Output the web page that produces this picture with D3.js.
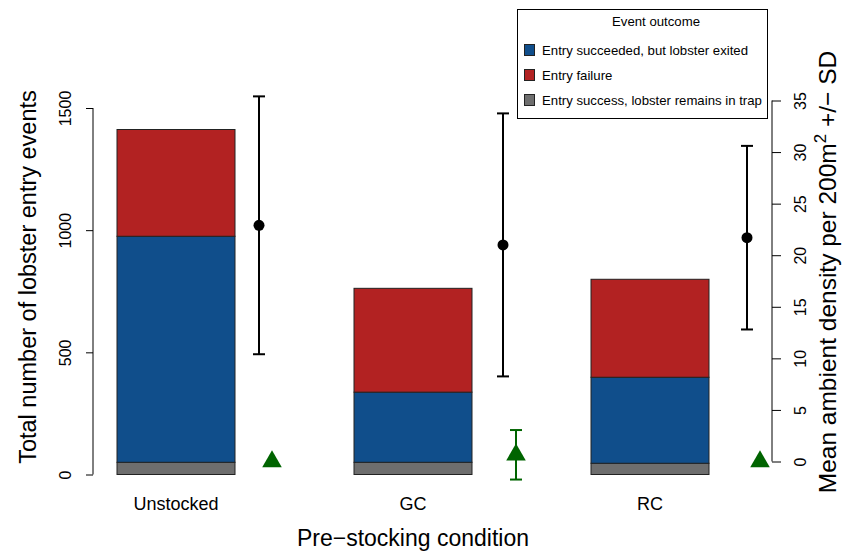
<!DOCTYPE html>
<html><head><meta charset="utf-8">
<script src="https://cdn.jsdelivr.net/npm/d3@7"></script>
<style>body{margin:0;background:#fff}svg{display:block}text{font-family:"Liberation Sans",Arial,sans-serif}</style>
</head><body>
<script>
const categories = ["Unstocked", "GC", "RC"];
const remains = [50, 50, 46];
const exited = [925, 287, 352];
const failure = [437, 425, 401];
const ambientMean = [22.9, 21.0, 21.7];
const ambientSD = [12.5, 12.75, 8.9];
const stockedMean = [0, 0.65, 0];
const stockedSD = [0, 2.4, 0];
const leftTicks = [0, 500, 1000, 1500];
const rightTicks = [0, 5, 10, 15, 20, 25, 30, 35];
const legendLabels = ["Entry succeeded, but lobster exited", "Entry failure", "Entry success, lobster remains in trap"];

const W = 842, H = 552;
const svg = d3.select("body").append("svg").attr("width", W).attr("height", H);

const x = d3.scalePoint().domain(categories).range([176, 650]);
const xPt = d3.scalePoint().domain(categories).range([259, 747]);
const yL = d3.scaleLinear().domain([0, 1500]).range([474.5, 108]);
const yR = d3.scaleLinear().domain([0, 35]).range([461.5, 100.5]);
const barW = 118;
const colors = {remains: "#6e6e6e", exited: "#104E8B", failure: "#B22222"};

// stacked bars
const stackData = categories.map((c, i) => ({cat: c, remains: remains[i], exited: exited[i], failure: failure[i]}));
const stack = d3.stack().keys(["remains", "exited", "failure"])(stackData);
stack.forEach(layer => {
  svg.append("g").selectAll("rect").data(layer).enter().append("rect")
    .attr("x", d => x(d.data.cat) - barW / 2)
    .attr("width", barW)
    .attr("y", d => yL(d[1]))
    .attr("height", d => yL(d[0]) - yL(d[1]))
    .attr("fill", colors[layer.key])
    .attr("stroke", "#222").attr("stroke-width", 1);
});

// left axis
const axL = svg.append("g").attr("transform", "translate(93,0)")
  .call(d3.axisLeft(yL).tickValues(leftTicks).tickFormat(d3.format("d")).tickSize(7).tickPadding(0));
axL.select(".domain").attr("stroke", "#000").attr("d", `M0,${yL(0)}V${yL(1500)}`);
axL.selectAll(".tick line").attr("stroke", "#000");
axL.selectAll(".tick text").attr("text-anchor", "middle").attr("dy", "0.35em").style("font-size", "16px").attr("fill", "#000")
  .attr("transform", "translate(-28,0) rotate(-90)").attr("x", 0).attr("y", 0);

// right axis
const axR = svg.append("g").attr("transform", "translate(772,0)")
  .call(d3.axisRight(yR).tickValues(rightTicks).tickSize(9).tickPadding(0));
axR.select(".domain").attr("stroke", "#000").attr("d", `M0,${yR(0)}V${yR(35)}`);
axR.selectAll(".tick line").attr("stroke", "#000");
axR.selectAll(".tick text").attr("text-anchor", "middle").attr("dy", "0.35em").style("font-size", "16px").attr("fill", "#000")
  .attr("transform", "translate(28,0) rotate(-90)").attr("x", 0).attr("y", 0);

// ambient density error bars
const eb = svg.append("g");
categories.forEach((c, i) => {
  const cx = xPt(c);
  const top = yR(ambientMean[i] + ambientSD[i]), bot = yR(ambientMean[i] - ambientSD[i]);
  eb.append("line").attr("x1", cx).attr("x2", cx).attr("y1", top).attr("y2", bot).attr("stroke", "#000").attr("stroke-width", 2);
  [top, bot].forEach(yy => eb.append("line").attr("x1", cx - 6).attr("x2", cx + 6).attr("y1", yy).attr("y2", yy).attr("stroke", "#000").attr("stroke-width", 2));
  eb.append("circle").attr("cx", cx).attr("cy", yR(ambientMean[i])).attr("r", 5.5).attr("fill", "#000");
});

// stocked lobster triangles
const tg = svg.append("g");
categories.forEach((c, i) => {
  const cx = xPt(c) + 13;
  if (stockedSD[i] > 0) {
    const top = yR(stockedMean[i] + stockedSD[i]), bot = yR(stockedMean[i] - stockedSD[i]);
    tg.append("line").attr("x1", cx).attr("x2", cx).attr("y1", top).attr("y2", bot).attr("stroke", "#006400").attr("stroke-width", 2);
    [top, bot].forEach(yy => tg.append("line").attr("x1", cx - 6).attr("x2", cx + 6).attr("y1", yy).attr("y2", yy).attr("stroke", "#006400").attr("stroke-width", 2));
  }
  const cy = yR(stockedMean[i]);
  const r = 11.3, xc = r * Math.sqrt(3) / 2;
  tg.append("path").attr("d", `M${cx},${cy - r}L${cx + xc},${cy + r / 2}L${cx - xc},${cy + r / 2}Z`).attr("fill", "#006400");
});

// category labels
svg.append("g").selectAll("text").data(categories).enter().append("text")
  .attr("x", d => x(d)).attr("y", 510).attr("text-anchor", "middle").style("font-size", "18px").text(d => d);

// axis titles
svg.append("text").attr("x", 413).attr("y", 546).attr("text-anchor", "middle").style("font-size", "23px").text("Pre\u2212stocking condition");
svg.append("text").attr("transform", "translate(36,277) rotate(-90)").attr("text-anchor", "middle").style("font-size", "23.5px").text("Total number of lobster entry events");
const rt = svg.append("text").attr("transform", "translate(836,272) rotate(-90)").attr("text-anchor", "middle").style("font-size", "24.5px");
rt.append("tspan").text("Mean ambient density per 200m");
rt.append("tspan").attr("dy", -10).style("font-size", "17px").text("2");
rt.append("tspan").attr("dy", 10).text(" +/\u2212 SD");

// legend
const lg = svg.append("g");
lg.append("rect").attr("x", 517.5).attr("y", 9.5).attr("width", 250).attr("height", 109).attr("fill", "#fff").attr("stroke", "#000");
lg.append("text").attr("x", 656).attr("y", 25.5).attr("text-anchor", "middle").style("font-size", "13.2px").text("Event outcome");
const legCols = [colors.exited, colors.failure, colors.remains];
legendLabels.forEach((l, i) => {
  const yy = 50 + i * 25;
  lg.append("rect").attr("x", 524.5).attr("y", yy - 5.5).attr("width", 10).attr("height", 11).attr("fill", legCols[i]).attr("stroke", "#222");
  lg.append("text").attr("x", 542).attr("y", yy + 4.8).style("font-size", "13.2px").text(l);
});
</script>
</body></html>
